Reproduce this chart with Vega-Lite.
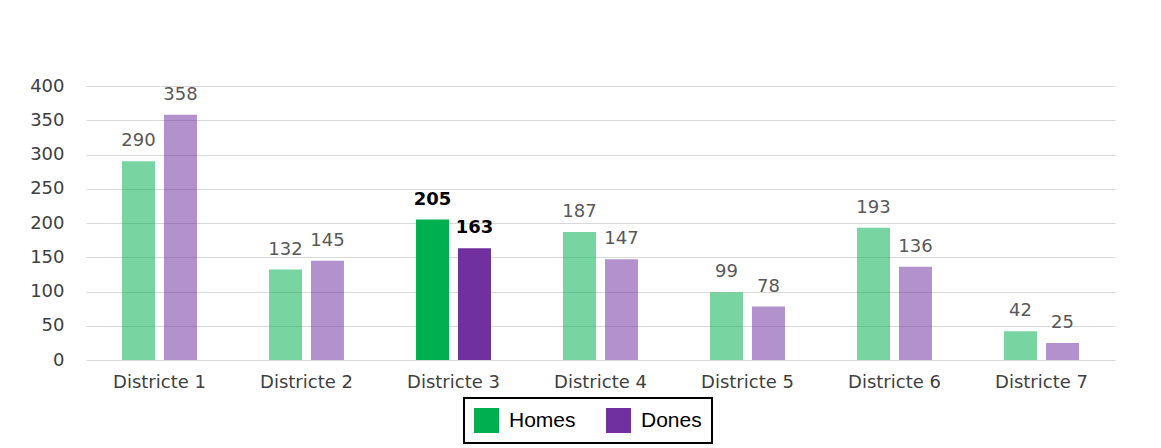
{
  "$schema": "https://vega.github.io/schema/vega-lite/v6.json",
  "width": 1029,
  "height": 274,
  "autosize": {"type": "none"},
  "padding": {"left": 86, "top": 86, "right": 46, "bottom": 88},
  "background": "white",
  "config": {
    "view": {"stroke": null},
    "font": "DejaVu Sans"
  },
  "data": {
    "values": [
      {"district": "Districte 1", "series": "Homes", "value": 290},
      {"district": "Districte 1", "series": "Dones", "value": 358},
      {"district": "Districte 2", "series": "Homes", "value": 132},
      {"district": "Districte 2", "series": "Dones", "value": 145},
      {"district": "Districte 3", "series": "Homes", "value": 205},
      {"district": "Districte 3", "series": "Dones", "value": 163},
      {"district": "Districte 4", "series": "Homes", "value": 187},
      {"district": "Districte 4", "series": "Dones", "value": 147},
      {"district": "Districte 5", "series": "Homes", "value": 99},
      {"district": "Districte 5", "series": "Dones", "value": 78},
      {"district": "Districte 6", "series": "Homes", "value": 193},
      {"district": "Districte 6", "series": "Dones", "value": 136},
      {"district": "Districte 7", "series": "Homes", "value": 42},
      {"district": "Districte 7", "series": "Dones", "value": 25}
    ]
  },
  "encoding": {
    "x": {
      "field": "district", "type": "nominal", "sort": null,
      "scale": {"paddingInner": 0.49, "paddingOuter": 0.245},
      "axis": {"title": null, "labelAngle": 0, "ticks": false, "domain": false, "labelPadding": 13, "labelFontSize": 18, "labelColor": "#404040", "labelFont": "DejaVu Sans"}
    },
    "xOffset": {
      "field": "series", "type": "nominal", "sort": ["Homes", "Dones"],
      "scale": {"paddingInner": 0.214, "paddingOuter": 0}
    },
    "y": {
      "field": "value", "type": "quantitative",
      "scale": {"domain": [0, 400], "nice": false},
      "axis": {"title": null, "values": [0, 50, 100, 150, 200, 250, 300, 350, 400], "ticks": false, "domain": false, "labelPadding": 22, "labelFontSize": 18, "labelColor": "#404040", "labelFont": "DejaVu Sans", "gridColor": "#d9d9d9", "gridWidth": 1}
    }
  },
  "layer": [
    {
      "mark": {"type": "bar"},
      "encoding": {
        "color": {
          "field": "series", "type": "nominal",
          "scale": {"domain": ["Homes", "Dones"], "range": ["#00B050", "#7030A0"]},
          "legend": {
            "title": null, "orient": "none", "direction": "horizontal",
            "legendX": 378, "legendY": 312,
            "strokeColor": "black", "padding": 10,
            "symbolType": "square", "symbolSize": 625, "symbolStrokeWidth": 0, "symbolOpacity": 1,
            "labelFont": "Liberation Sans", "labelFontSize": 21, "labelColor": "black",
            "labelOffset": 10, "columnPadding": 30,
            "encode": {"legend": {"update": {"strokeWidth": {"value": 2}}}}
          }
        },
        "opacity": {
          "condition": {"test": "datum.district === 'Districte 3'", "value": 1},
          "value": 0.53
        }
      }
    },
    {
      "transform": [{"filter": "datum.district !== 'Districte 3'"}],
      "mark": {"type": "text", "baseline": "bottom", "dy": -11, "fontSize": 18, "color": "#595959", "font": "DejaVu Sans"},
      "encoding": {"text": {"field": "value", "type": "quantitative"}}
    },
    {
      "transform": [{"filter": "datum.district === 'Districte 3'"}],
      "mark": {"type": "text", "baseline": "bottom", "dy": -11, "fontSize": 18, "fontWeight": "bold", "color": "black", "font": "DejaVu Sans"},
      "encoding": {"text": {"field": "value", "type": "quantitative"}}
    }
  ]
}
